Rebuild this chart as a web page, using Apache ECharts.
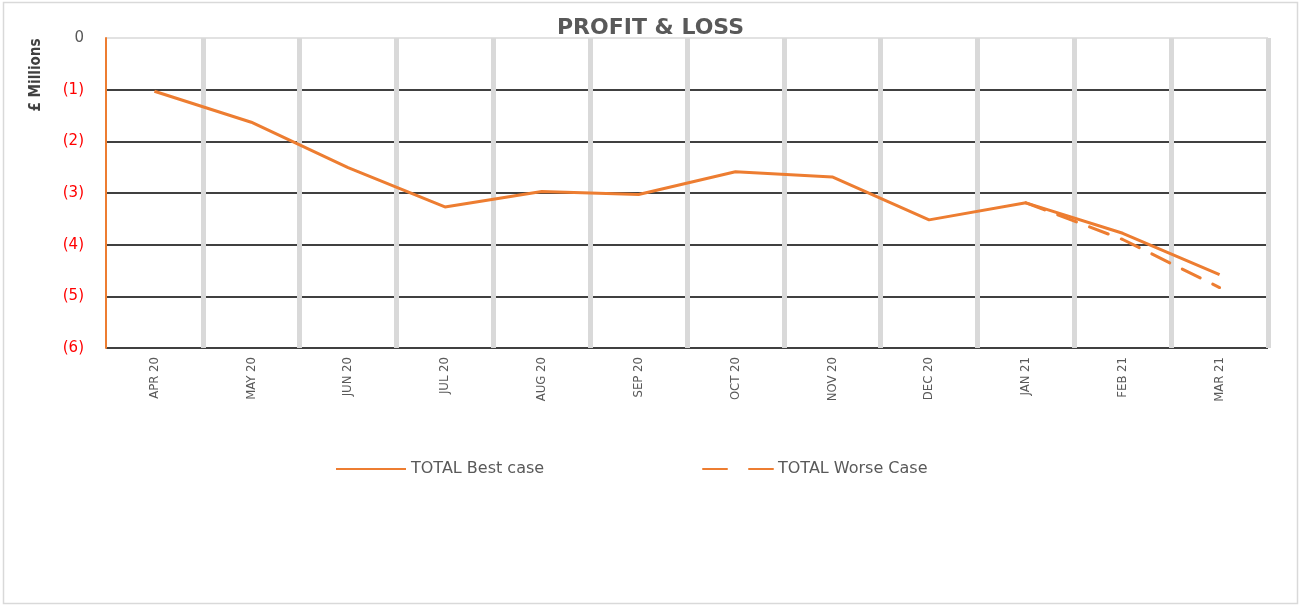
<!DOCTYPE html>
<html>
<head>
<meta charset="utf-8">
<script src="https://cdn.jsdelivr.net/npm/echarts@6/dist/echarts.min.js"></script>
<style>
html,body{margin:0;padding:0;background:#fff;}
#chart{width:1301px;height:606px;}
</style>
</head>
<body>
<div id="chart"></div>
<script>
const categories = ['APR 20','MAY 20','JUN 20','JUL 20','AUG 20','SEP 20','OCT 20','NOV 20','DEC 20','JAN 21','FEB 21','MAR 21'];
const bestCase = [-1.03,-1.63,-2.51,-3.27,-2.97,-3.03,-2.59,-2.69,-3.52,-3.19,-3.78,-4.58];
const worseCase = [null,null,null,null,null,null,null,null,null,-3.19,-3.90,-4.83];
const yTicks = [-6,-5,-4,-3,-2,-1,0];

const chart = echarts.init(document.getElementById('chart'), null, {renderer:'canvas'});
const orange = '#ED7D31';
const condensed = "'DejaVu Sans Condensed','Liberation Sans Narrow',sans-serif";
chart.setOption({
  animation:false,
  backgroundColor:'#fff',
  title:{
    text:'PROFIT & LOSS', left:'center', top:12,
    textStyle:{fontFamily:'DejaVu Sans', fontWeight:'bold', fontSize:22, color:'#595959'}
  },
  legend:[{
    data:['TOTAL Best case'], left:330, top:456, itemWidth:70, itemHeight:14, itemGap:7,
    itemStyle:{opacity:0},
    textStyle:{fontFamily:'DejaVu Sans', fontSize:16, color:'#595959'}
  },{
    data:['TOTAL Worse Case'], left:697, top:456, itemWidth:70, itemHeight:14,
    itemStyle:{opacity:0},
    lineStyle:{type:[24,22]},
    textStyle:{fontFamily:'DejaVu Sans', fontSize:16, color:'#595959'}
  }],
  grid:{left:106, right:33, top:38, bottom:258},
  xAxis:{
    type:'category', data:categories, boundaryGap:true, zlevel:1, z:0,
    axisLine:{show:false}, axisTick:{show:false},
    axisLabel:{rotate:90, margin:9, interval:0, fontFamily:condensed, fontSize:13, color:'#595959'},
    splitLine:{show:true, interval:function(i){ return i > 0; }, lineStyle:{color:'#d9d9d9', width:5}}
  },
  yAxis:{
    type:'value', min:-6, max:0, interval:1, zlevel:0, z:0,
    axisLine:{show:true, lineStyle:{color:orange, width:2}},
    axisTick:{show:false},
    axisLabel:{
      margin:22, fontFamily:'DejaVu Sans', fontSize:15,
      formatter:function(v){ return v===0 ? '0' : '(' + Math.abs(v) + ')'; },
      color:function(v){ return Number(v)===0 ? '#595959' : '#FF0000'; }
    },
    splitLine:{show:true, lineStyle:{color:['#000','#000','#000','#000','#000','#000','#d9d9d9'], width:1.5}}
  },
  graphic:[
    {type:'rect', shape:{x:3.5,y:2.5,width:1294,height:601}, style:{fill:null, stroke:'#d9d9d9', lineWidth:1.5}, silent:true},
    {type:'text', x:36, y:75, rotation:Math.PI/2,
     style:{text:'£ Millions', fontFamily:condensed, fontWeight:'bold', fontSize:15, fill:'#404040', align:'center', verticalAlign:'middle'}}
  ],
  series:[
    {name:'TOTAL Best case', type:'line', data:bestCase, symbol:'none', zlevel:1, z:3,
     lineStyle:{color:orange, width:3}, itemStyle:{color:orange}},
    {name:'TOTAL Worse Case', type:'line', data:worseCase, symbol:'none', zlevel:1, z:2,
     lineStyle:{color:orange, width:3, type:[20,14], cap:'round'}, itemStyle:{color:orange}}
  ]
});
</script>
</body>
</html>
